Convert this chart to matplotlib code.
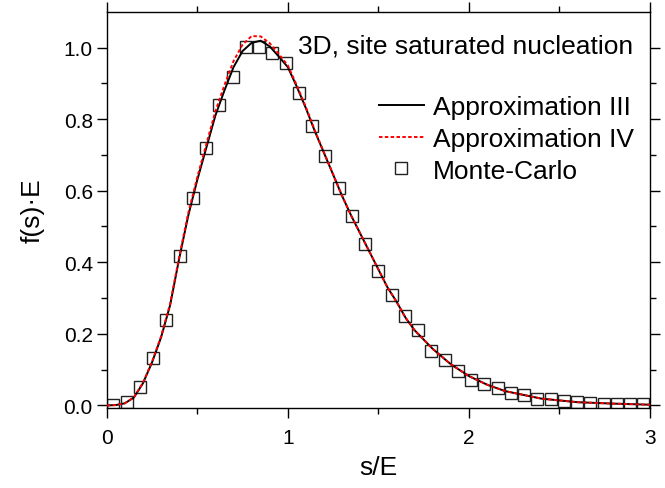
import matplotlib.pyplot as plt
import numpy as np

plt.rcParams['font.family'] = ['Liberation Sans', 'DejaVu Sans']

# Monte-Carlo points
mc_s = [0.037, 0.110, 0.183, 0.256, 0.329, 0.402, 0.476, 0.549, 0.622, 0.695,
        0.768, 0.841, 0.915, 0.988, 1.061, 1.134, 1.207, 1.280, 1.354, 1.427,
        1.500, 1.573, 1.646, 1.720, 1.793, 1.866, 1.939, 2.012, 2.085, 2.159,
        2.232, 2.305, 2.378, 2.451, 2.524, 2.598, 2.671, 2.744, 2.817, 2.890, 2.963]
mc_f = [0.000, 0.009, 0.051, 0.133, 0.239, 0.418, 0.579, 0.720, 0.840, 0.917,
        1.002, 1.002, 0.984, 0.957, 0.872, 0.780, 0.698, 0.607, 0.529, 0.452,
        0.376, 0.308, 0.249, 0.212, 0.153, 0.128, 0.097, 0.072, 0.060, 0.049,
        0.036, 0.030, 0.019, 0.019, 0.013, 0.009, 0.007, 0.004, 0.004, 0.003, 0.003]

# Approximation III
s3 = [0.0, 0.05, 0.1, 0.15, 0.2, 0.25, 0.3, 0.35, 0.4, 0.45, 0.5, 0.55, 0.6, 0.65,
      0.7, 0.75, 0.8, 0.85, 0.9, 0.95, 1.0, 1.05, 1.1, 1.15, 1.2, 1.25, 1.3, 1.35,
      1.4, 1.45, 1.5, 1.55, 1.6, 1.65, 1.7, 1.8, 1.9, 2.0, 2.1, 2.2, 2.4, 2.6, 2.8, 3.0]
f3 = [0.0, 0.001, 0.006, 0.022, 0.062, 0.120, 0.190, 0.280, 0.410, 0.530, 0.630,
      0.720, 0.810, 0.880, 0.945, 0.990, 1.013, 1.019, 1.003, 0.975, 0.945, 0.890,
      0.830, 0.765, 0.705, 0.645, 0.585, 0.530, 0.480, 0.430, 0.380, 0.330, 0.290,
      0.245, 0.210, 0.158, 0.115, 0.082, 0.058, 0.040, 0.019, 0.009, 0.005, 0.002]

# Approximation IV
s4 = [0.0, 0.05, 0.1, 0.15, 0.2, 0.25, 0.3, 0.35, 0.4, 0.45, 0.5, 0.55, 0.6, 0.65,
      0.7, 0.75, 0.8, 0.85, 0.9, 0.95, 1.0, 1.05, 1.1, 1.15, 1.2, 1.25, 1.3, 1.35,
      1.4, 1.45, 1.5, 1.55, 1.6, 1.65, 1.7, 1.8, 1.9, 2.0, 2.1, 2.2, 2.4, 2.6, 2.8, 3.0]
f4 = [0.0, 0.001, 0.006, 0.023, 0.063, 0.122, 0.193, 0.284, 0.415, 0.537, 0.638,
      0.730, 0.822, 0.895, 0.962, 1.008, 1.032, 1.031, 1.012, 0.982, 0.950, 0.894,
      0.833, 0.767, 0.706, 0.646, 0.585, 0.530, 0.480, 0.430, 0.380, 0.330, 0.290,
      0.245, 0.210, 0.158, 0.115, 0.082, 0.058, 0.040, 0.019, 0.009, 0.005, 0.002]

fig = plt.figure(figsize=(6.65, 4.89), dpi=100)
ax = fig.add_axes([0.1605, 0.163, 0.817, 0.811])

ax.plot(s3, f3, color='black', lw=1.4, label='Approximation III', zorder=3)
ax.plot(s4, f4, color='red', lw=1.4, ls=(0, (1.8, 1.2)), label='Approximation IV', zorder=4)
ax.plot(mc_s, mc_f, ls='none', marker='s', ms=9, mfc='none', mec='#222222', mew=1.0,
        label='Monte-Carlo', zorder=2)

ax.set_xlim(0, 3)
ax.set_ylim(-0.008, 1.1)
ax.set_xticks([0, 1, 2, 3])
ax.set_xticks([0.5, 1.5, 2.5], minor=True)
ax.set_yticks(np.arange(0, 1.01, 0.2))
ax.set_yticks(np.arange(0.1, 1.1, 0.2), minor=True)
ax.set_yticklabels(['0.0', '0.2', '0.4', '0.6', '0.8', '1.0'])

ax.tick_params(which='both', direction='out', top=True, right=True, labelsize=15, width=1.0)
ax.tick_params(which='major', length=7)
ax.tick_params(which='minor', length=4)
ax.tick_params(axis='x', pad=7)
ax.tick_params(axis='y', pad=3)
for sp in ax.spines.values():
    sp.set_linewidth(1.0)

ax.set_xlabel('s/E', fontsize=19, labelpad=6)
ax.set_ylabel('f(s)·E', fontsize=19, labelpad=14)

ax.text(0.969, 0.945, '3D, site saturated nucleation', transform=ax.transAxes,
        ha='right', va='top', fontsize=19)

ax.legend(loc='upper right', bbox_to_anchor=(0.99, 0.817), frameon=False, fontsize=19,
          handlelength=1.7, handletextpad=0.35, labelspacing=0.3, borderaxespad=0)

fig.savefig('out.png', dpi=100)
